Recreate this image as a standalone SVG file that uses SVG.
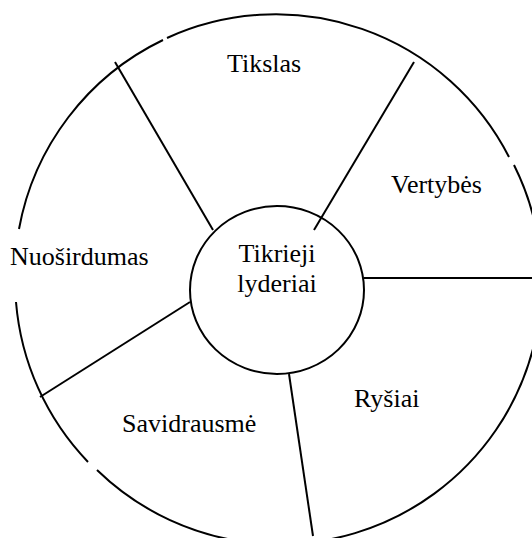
<svg xmlns="http://www.w3.org/2000/svg" width="532" height="538" viewBox="0 0 532 538">
<style>
.ln{fill:none;stroke:#000;stroke-width:2}
.t{font-family:"Liberation Serif","Times New Roman",serif;font-size:26px;fill:#000}
</style>
<rect width="532" height="538" fill="#fff"/>
<g id="outer-ring" class="ln">
<path d="M19,229 A262,262 0 0 1 163,40"/>
<path d="M167,38 A262,262 0 0 1 509,157"/>
<path d="M514,165 A262,262 0 0 1 97,470"/>
<path d="M88,462 A262,262 0 0 1 16,302"/>
</g>
<g id="connectors" class="ln">
<line x1="115" y1="62" x2="213" y2="230"/>
<line x1="414" y1="62" x2="314" y2="230"/>
<line x1="364" y1="278" x2="532" y2="278"/>
<line x1="289" y1="374" x2="313" y2="536"/>
<line x1="190" y1="302" x2="40" y2="397"/>
</g>
<g id="center">
<ellipse class="ln" cx="277" cy="290" rx="87" ry="84"/>
<text class="t" x="277" y="262" text-anchor="middle">Tikrieji</text>
<text class="t" x="277" y="292" text-anchor="middle">lyderiai</text>
</g>
<g id="tikslas"><text class="t" x="227" y="72">Tikslas</text></g>
<g id="vertybes"><text class="t" x="391" y="193">Vertybės</text></g>
<g id="rysiai"><text class="t" x="354" y="407">Ryšiai</text></g>
<g id="savidrausme"><text class="t" x="122" y="432">Savidrausmė</text></g>
<g id="nuosirdumas"><text class="t" x="10" y="265">Nuoširdumas</text></g>
</svg>
